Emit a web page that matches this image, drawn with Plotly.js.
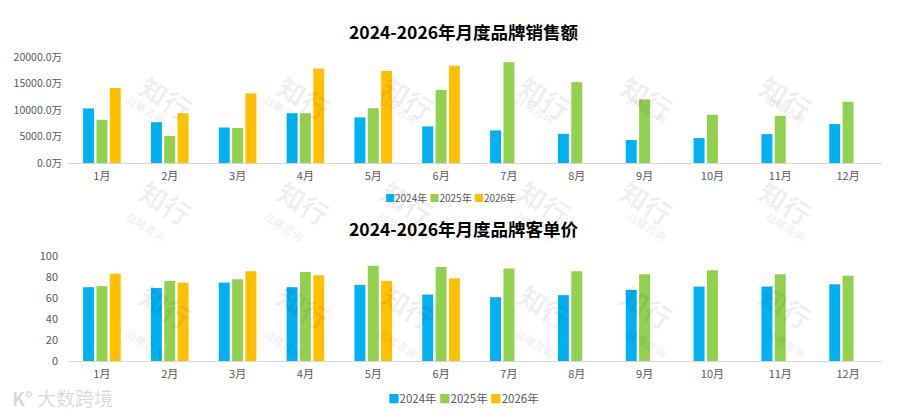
<!DOCTYPE html>
<html>
<head>
<meta charset="utf-8">
<script src="https://cdn.plot.ly/plotly-3.0.1.min.js"></script>
<style>
  html, body { margin: 0; padding: 0; background: #ffffff; }
  #main-screen { width: 900px; height: 413px; }
</style>
</head>
<body>
<div id="main-screen"></div>
<script>
// ------------------------------------------------------------------------------
// DATA

const months = ['1月', '2月', '3月', '4月', '5月', '6月', '7月', '8月', '9月', '10月', '11月', '12月'];
const years  = ['2024年', '2025年', '2026年'];

// monthly brand sales (万)
const sales2024 = [10300, 7700, 6700, 9400, 8600, 6900, 6150, 5500, 4350, 4700, 5450, 7350];
const sales2025 = [8150, 5100, 6600, 9400, 10350, 13800, 19000, 15250, 12000, 9100, 8900, 11550];
const sales2026 = [14150, 9400, 13150, 17850, 17350, 18350, null, null, null, null, null, null];

// monthly average order value
const price2024 = [70.3, 69.6, 74.7, 70.3, 72.5, 63.3, 60.8, 62.7, 67.7, 70.9, 70.9, 73.1];
const price2025 = [71.2, 76.3, 77.8, 84.8, 90.8, 89.6, 88.0, 85.4, 82.6, 86.4, 82.6, 81.3];
const price2026 = [83.2, 74.7, 85.4, 81.6, 76.3, 78.8, null, null, null, null, null, null];

const salesTicks  = [0, 5000, 10000, 15000, 20000];
const salesLabels = ['0.0万', '5000.0万', '10000.0万', '15000.0万', '20000.0万'];
const priceTicks  = [0, 20, 40, 60, 80, 100];

// ------------------------------------------------------------------------------
// PARAMETERS

const colors      = ['#00B0F0', '#92D050', '#FFC000'];
const font_family = '"Noto Sans CJK SC", "Noto Sans", "DejaVu Sans", sans-serif';
const tick_color  = '#595959';
const axis_color  = '#d9d9d9';

const displayConfig = {
    displayModeBar: false,
    staticPlot: true
};

// pixel -> paper helpers (plot area is x 68..882, full height)
const px = x => (x - 68) / 814;
const py = y => 1 - y / 413;

// ------------------------------------------------------------------------------
// TRACES

function makeBar(name, values, i, xa, ya) {
    return {
        type: 'bar',
        name: name,
        x: months,
        y: values,
        xaxis: xa,
        yaxis: ya,
        marker: { color: colors[i] },
        showlegend: false,
        hoverinfo: 'none'
    };
}

const traces = [
    makeBar(years[0], sales2024, 0, 'x', 'y'),
    makeBar(years[1], sales2025, 1, 'x', 'y'),
    makeBar(years[2], sales2026, 2, 'x', 'y'),
    makeBar(years[0], price2024, 0, 'x2', 'y2'),
    makeBar(years[1], price2025, 1, 'x2', 'y2'),
    makeBar(years[2], price2026, 2, 'x2', 'y2')
];

// ------------------------------------------------------------------------------
// WATERMARKS

const watermarks = [];
const wm_cols = [130, 268, 408, 545, 683, 822];
const wm_rows = [64, 202, 340];
for (const wy of wm_rows) {
    for (const wx of wm_cols) {
        watermarks.push({
            text: '<b>知行</b>',
            xref: 'paper', yref: 'paper',
            x: px(wx), y: py(wy),
            showarrow: false,
            textangle: 32,
            font: { family: font_family, size: 27, color: 'rgba(0,0,0,0.07)' }
        });
        watermarks.push({
            text: '<b>战略咨询</b>',
            xref: 'paper', yref: 'paper',
            x: px(wx - 10), y: py(wy + 24),
            showarrow: false,
            textangle: 32,
            font: { family: font_family, size: 11, color: 'rgba(0,0,0,0.07)' }
        });
    }
}

// ------------------------------------------------------------------------------
// LEGENDS (drawn as one line of text per chart)

function legendText() {
    return years.map((y, i) =>
        '<span style="color:' + colors[i] + '">■</span>' + y
    ).join(' ');
}

// ------------------------------------------------------------------------------
// LAYOUT

const axisX = {
    type: 'category',
    showgrid: false,
    zeroline: false,
    showline: true,
    linecolor: axis_color,
    linewidth: 1,
    ticks: '',
    ticklabelstandoff: 3,
    tickfont: { family: font_family, size: 11, color: tick_color }
};

const layout = {
    width: 900,
    height: 413,
    paper_bgcolor: '#ffffff',
    plot_bgcolor: '#ffffff',
    margin: { l: 68, r: 18, t: 0, b: 0, pad: 0 },
    barmode: 'group',
    bargap: 0.41,
    bargroupgap: 0.18,
    showlegend: false,
    font: { family: font_family, color: tick_color },
    xaxis:  Object.assign({}, axisX, { anchor: 'y',  domain: [0, 1] }),
    xaxis2: Object.assign({}, axisX, { anchor: 'y2', domain: [0, 1] }),
    yaxis: {
        domain: [py(163), py(57)],
        range: [0, 20000],
        autorange: false,
        tickvals: salesTicks,
        ticktext: salesLabels,
        showgrid: false,
        zeroline: false,
        showline: false,
        ticks: '',
        ticklabelstandoff: 5,
        tickfont: { family: font_family, size: 10.5, color: tick_color }
    },
    yaxis2: {
        domain: [py(361), py(256)],
        range: [0, 100],
        autorange: false,
        tickvals: priceTicks,
        showgrid: false,
        zeroline: false,
        showline: false,
        ticks: '',
        ticklabelstandoff: 9,
        tickfont: { family: font_family, size: 11, color: tick_color }
    },
    annotations: watermarks.concat([
        {
            text: '<b>2024-2026年月度品牌销售额</b>',
            xref: 'paper', yref: 'paper',
            x: px(464), y: py(31),
            xanchor: 'center', yanchor: 'middle',
            showarrow: false,
            font: { family: font_family, size: 17.5, color: '#000000' }
        },
        {
            text: '<b>2024-2026年月度品牌客单价</b>',
            xref: 'paper', yref: 'paper',
            x: px(464), y: py(228),
            xanchor: 'center', yanchor: 'middle',
            showarrow: false,
            font: { family: font_family, size: 17.5, color: '#000000' }
        },
        {
            text: legendText(),
            xref: 'paper', yref: 'paper',
            x: px(450), y: py(197),
            xanchor: 'center', yanchor: 'middle',
            showarrow: false,
            font: { family: font_family, size: 10, color: tick_color }
        },
        {
            text: legendText(),
            xref: 'paper', yref: 'paper',
            x: px(463), y: py(398),
            xanchor: 'center', yanchor: 'middle',
            showarrow: false,
            font: { family: font_family, size: 11.5, color: tick_color }
        },
        {
            text: '<b>K°</b> 大数跨境',
            xref: 'paper', yref: 'paper',
            x: px(10), y: py(397),
            xanchor: 'left', yanchor: 'middle',
            showarrow: false,
            font: { family: font_family, size: 19, color: 'rgba(0,0,0,0.16)' }
        }
    ])
};

Plotly.newPlot('main-screen', traces, layout, displayConfig);
</script>
</body>
</html>
